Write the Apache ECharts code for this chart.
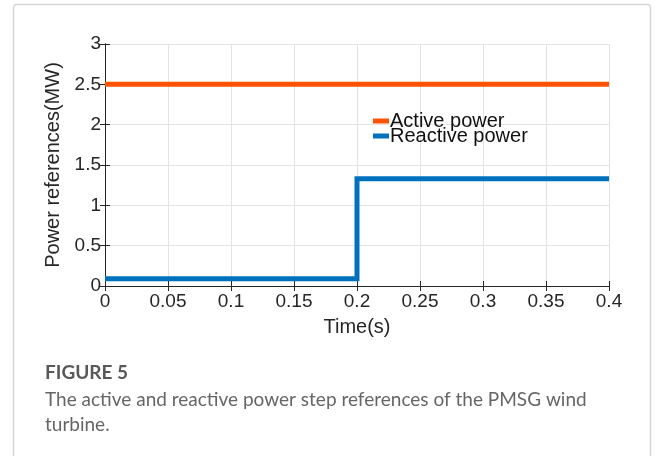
<!DOCTYPE html>
<html>
<head>
<meta charset="utf-8">
<script src="https://cdn.jsdelivr.net/npm/echarts@6/dist/echarts.min.js"></script>
<style>
  html, body { margin: 0; padding: 0; background: #ffffff; }
  #chart { width: 656px; height: 456px; }
</style>
</head>
<body>
<div id="chart"></div>
<script>
// Step references (time in s, power in MW)
var activeTime = [0, 0.4];
var activePower = [2.5, 2.5];
var reactiveTime = [0, 0.2, 0.2, 0.4];
var reactivePower = [0.09, 0.09, 1.33, 1.33];
var seriesNames = ['Active power', 'Reactive power'];
var xTicks = [0, 0.05, 0.1, 0.15, 0.2, 0.25, 0.3, 0.35, 0.4];
var yTicks = [0, 0.5, 1, 1.5, 2, 2.5, 3];

function pairs(xs, ys) {
  return xs.map(function (x, i) { return [x, ys[i]]; });
}

var axisColor = '#262626';
var font = '"Liberation Sans", Arial, sans-serif';
var capFont = 'Lato, "Open Sans", sans-serif';

var chart = echarts.init(document.getElementById('chart'), null, { renderer: 'canvas' });

var boxAxis = {
  axisLine: { show: true, lineStyle: { color: axisColor, width: 1 } },
  axisTick: { show: true, inside: true, length: 5, lineStyle: { color: axisColor } },
  axisLabel: { show: false },
  splitLine: { show: false }
};

function tickLabel(list) {
  return function (v) {
    var t = list.find(function (k) { return Math.abs(k - v) < 1e-9; });
    return t === undefined ? '' : String(t);
  };
}

chart.setOption({
  animation: false,
  backgroundColor: '#ffffff',
  grid: { left: 105, top: 44, right: 47, bottom: 170, containLabel: false },
  legend: {
    left: 368, top: 106, orient: 'vertical', itemGap: -5,
    icon: 'rect', itemWidth: 16, itemHeight: 5,
    textStyle: { fontFamily: font, fontSize: 20, color: '#111', lineHeight: 15, padding: [0, 0, 0, -4] },
    data: seriesNames
  },
  xAxis: [{
    type: 'value', min: 0, max: 0.4, interval: 0.05,
    name: 'Time(s)', nameLocation: 'middle', nameGap: 31,
    nameTextStyle: { fontFamily: font, fontSize: 20, color: axisColor },
    axisLine: { show: true, onZero: false, lineStyle: { color: axisColor, width: 1 } },
    axisTick: { show: true, inside: true, length: 5, lineStyle: { color: axisColor } },
    axisLabel: { fontFamily: font, fontSize: 19, color: axisColor, margin: 6, formatter: tickLabel(xTicks) },
    splitLine: { show: true, lineStyle: { color: '#e3e3e3', width: 1 } }
  }, Object.assign({ type: 'value', position: 'top', min: 0, max: 0.4, interval: 0.05 }, boxAxis)],
  yAxis: [{
    type: 'value', min: 0, max: 3, interval: 0.5,
    name: 'Power references(MW)', nameLocation: 'middle', nameGap: 35,
    nameTextStyle: { fontFamily: font, fontSize: 20, color: axisColor },
    axisLine: { show: true, onZero: false, lineStyle: { color: axisColor, width: 1 } },
    axisTick: { show: true, inside: true, length: 5, lineStyle: { color: axisColor } },
    axisLabel: { fontFamily: font, fontSize: 19, color: axisColor, margin: 4, formatter: tickLabel(yTicks) },
    splitLine: { show: true, lineStyle: { color: '#e3e3e3', width: 1 } }
  }, Object.assign({ type: 'value', position: 'right', min: 0, max: 3, interval: 0.5 }, boxAxis)],
  series: [{
    name: seriesNames[0], type: 'line', showSymbol: false, symbol: 'none',
    data: pairs(activeTime, activePower),
    lineStyle: { color: '#FF5300', width: 5 }, itemStyle: { color: '#FF5300' }
  }, {
    name: seriesNames[1], type: 'line', showSymbol: false, symbol: 'none',
    data: pairs(reactiveTime, reactivePower),
    lineStyle: { color: '#0072BD', width: 5, join: 'miter' }, itemStyle: { color: '#0072BD' }
  }],
  graphic: [{
    type: 'rect', silent: true, z: -1,
    shape: { x: 13.5, y: 4.5, width: 637, height: 470, r: 3 },
    style: { fill: 'none', stroke: '#d6d6d6', lineWidth: 1.5 }
  }, {
    type: 'text', left: 45, top: 363,
    style: { text: 'FIGURE 5', font: 'bold 19px ' + capFont, fill: '#595959' }
  }, {
    type: 'text', left: 45, top: 387,
    style: {
      text: 'The active and reactive power step references of the PMSG wind\nturbine.',
      font: '19px ' + capFont, fill: '#666666', lineHeight: 25
    }
  }]
});
</script>
</body>
</html>
